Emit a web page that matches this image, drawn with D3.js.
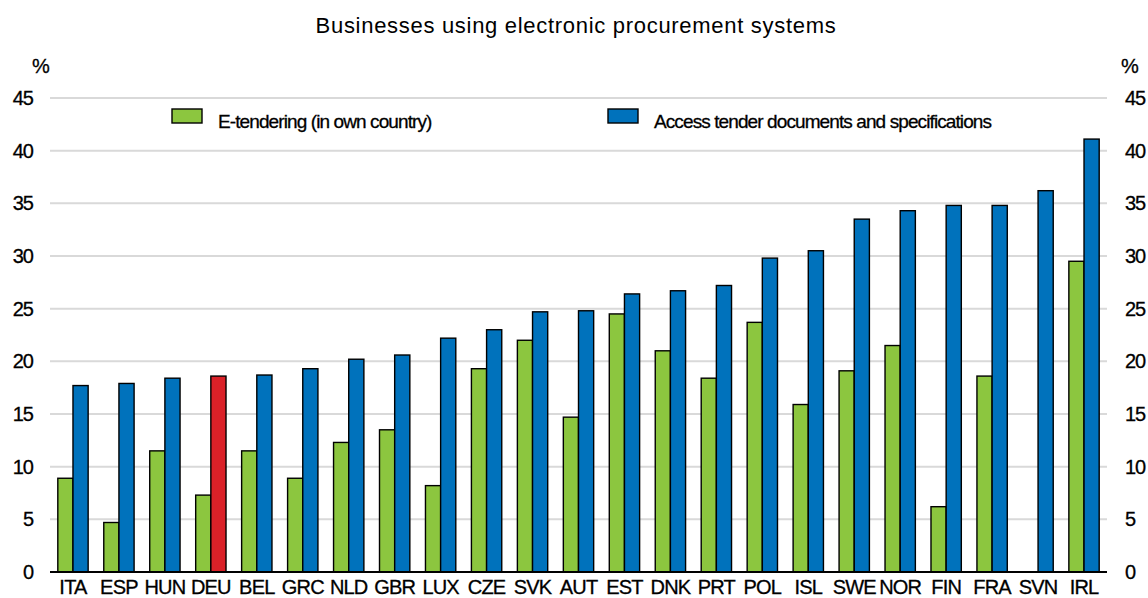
<!DOCTYPE html>
<html>
<head>
<meta charset="utf-8">
<script src="https://cdn.jsdelivr.net/npm/d3@7"></script>
<style>
  body { margin: 0; background: #fff; }
  text { font-family: "Liberation Sans", Arial, sans-serif; fill: #000; }
</style>
</head>
<body>
<div id="chart"></div>
<script>
const countries = ["ITA","ESP","HUN","DEU","BEL","GRC","NLD","GBR","LUX","CZE","SVK","AUT","EST","DNK","PRT","POL","ISL","SWE","NOR","FIN","FRA","SVN","IRL"];
const eTendering = [8.9,4.7,11.5,7.3,11.5,8.9,12.3,13.5,8.2,19.3,22.0,14.7,24.5,21.0,18.4,23.7,15.9,19.1,21.5,6.2,18.6,null,29.5];
const accessDocs = [17.7,17.9,18.4,18.6,18.7,19.3,20.2,20.6,22.2,23.0,24.7,24.8,26.4,26.7,27.2,29.8,30.5,33.5,34.3,34.8,34.8,36.2,41.1];
const yTicks = [0,5,10,15,20,25,30,35,40,45];
const seriesNames = ["E-tendering (in own country)", "Access tender documents and specifications"];
const highlight = "DEU";

const width = 1148, height = 598;
const margin = { top: 98, right: 41, bottom: 26, left: 50 };
const green = "#8cc63f", blue = "#0072bc", red = "#da2128";

const svg = d3.select("#chart").append("svg")
  .attr("width", width)
  .attr("height", height);

const x = d3.scaleBand()
  .domain(countries)
  .range([margin.left, width - margin.right])
  .paddingInner(0.34)
  .paddingOuter(0.17);

const xSub = d3.scaleBand()
  .domain([0, 1])
  .range([0, x.bandwidth()]);

const y = d3.scaleLinear()
  .domain([0, 45])
  .range([height - margin.bottom, margin.top]);

// gridlines
svg.append("g")
  .selectAll("line")
  .data(yTicks.filter(d => d > 0))
  .join("line")
  .attr("x1", margin.left)
  .attr("x2", width - margin.right)
  .attr("y1", d => y(d))
  .attr("y2", d => y(d))
  .attr("stroke", "#d9d9d9")
  .attr("stroke-width", 2);

// left / right tick labels
const leftAxis = d3.axisLeft(y).tickValues(yTicks).tickSize(0).tickPadding(17);
const rightAxis = d3.axisRight(y).tickValues(yTicks).tickSize(0).tickPadding(18);

function styleTicks(g) {
  g.select(".domain").remove();
  g.selectAll("text")
    .style("font-size", "20px")
    .style("letter-spacing", "-1px")
    .attr("fill", "#000")
    .attr("stroke", "#000")
    .attr("stroke-width", 0.3);
}

svg.append("g")
  .attr("transform", `translate(${margin.left},0)`)
  .call(leftAxis)
  .call(styleTicks);

svg.append("g")
  .attr("transform", `translate(${width - margin.right},0)`)
  .call(rightAxis)
  .call(styleTicks);

svg.selectAll(".pct")
  .data([41, 1130])
  .join("text")
  .attr("class", "pct")
  .attr("x", d => d)
  .attr("y", 73)
  .attr("text-anchor", "middle")
  .attr("stroke", "#000")
  .attr("stroke-width", 0.3)
  .style("font-size", "20px")
  .text("%");

// title
svg.append("text")
  .attr("x", 576)
  .attr("y", 33)
  .attr("text-anchor", "middle")
  .style("font-size", "22px")
  .style("letter-spacing", "0.7px")
  .text("Businesses using electronic procurement systems");

// bars
const groups = svg.append("g")
  .selectAll("g")
  .data(countries)
  .join("g")
  .attr("transform", d => `translate(${x(d)},0)`);

groups.each(function (c, i) {
  const g = d3.select(this);
  const vals = [eTendering[i], accessDocs[i]];
  vals.forEach((v, k) => {
    if (v == null) return;
    let fill = k === 0 ? green : blue;
    if (k === 1 && c === highlight) fill = red;
    g.append("rect")
      .attr("x", xSub(k))
      .attr("y", y(v))
      .attr("width", xSub.bandwidth())
      .attr("height", y(0) - y(v))
      .attr("fill", fill)
      .attr("stroke", "#000")
      .attr("stroke-width", 1.4);
  });
});

// baseline
svg.append("line")
  .attr("x1", margin.left)
  .attr("x2", width - margin.right)
  .attr("y1", y(0))
  .attr("y2", y(0))
  .attr("stroke", "#000")
  .attr("stroke-width", 2.2);

// x labels
const xAxis = d3.axisBottom(x).tickSize(0).tickPadding(8);
svg.append("g")
  .attr("transform", `translate(0,${y(0)})`)
  .call(xAxis)
  .call(g => g.select(".domain").remove())
  .selectAll("text")
  .style("font-size", "20px")
  .style("letter-spacing", "-0.8px")
  .attr("fill", "#000")
  .attr("stroke", "#000")
  .attr("stroke-width", 0.3);

// legend
const legendItems = [
  { name: seriesNames[0], color: green, x: 172 },
  { name: seriesNames[1], color: blue, x: 608 }
];
const legend = svg.append("g")
  .selectAll("g")
  .data(legendItems)
  .join("g")
  .attr("transform", d => `translate(${d.x},109)`);

legend.append("rect")
  .attr("width", 30)
  .attr("height", 14)
  .attr("fill", d => d.color)
  .attr("stroke", "#000")
  .attr("stroke-width", 1.4);

legend.append("text")
  .attr("x", 46)
  .attr("y", 19)
  .style("font-size", "19px")
  .style("letter-spacing", "-0.9px")
  .attr("stroke", "#000")
  .attr("stroke-width", 0.3)
  .text(d => d.name);
</script>
</body>
</html>
